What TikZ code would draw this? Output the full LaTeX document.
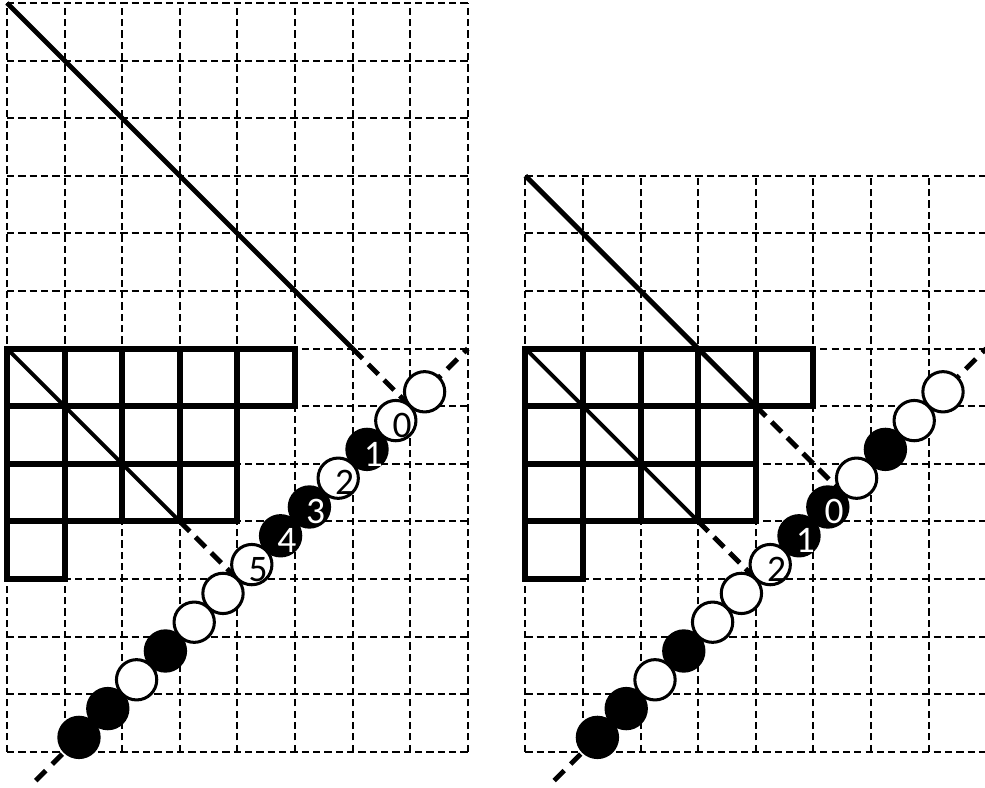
\documentclass[tikz,border=0pt]{standalone}
\usepackage{fontspec}
\setmainfont{Carlito}
\begin{document}
\begin{tikzpicture}[x=1cm,y=1cm,
  gridline/.style={line width=0.95pt, dash pattern=on 3.6pt off 2pt},
  youngbox/.style={line width=3pt, line join=miter},
  diagsolid/.style={line width=2.4pt},
  innersolid/.style={line width=1.9pt},
  diagdash/.style={line width=2.4pt, dash pattern=on 7pt off 4pt},
  beadline/.style={line width=2.4pt, dash pattern=on 7pt off 4.5pt},
  bead/.style={circle, draw=black, line width=1.5pt, minimum size=0.70cm, inner sep=0pt},
  lab/.style={inner sep=0pt, font=\fontsize{18.5}{21}\selectfont}
]
\useasboundingbox (-0.1215,-0.628) rectangle (16.979,13.052);

% grids
\draw[gridline] (0,0) grid (8,13);
\draw[gridline] (9,0) grid (17,10);

% Young diagrams
\foreach \ox in {0,9} {
  \foreach \x in {0,...,4} \draw[youngbox] (\ox+\x,6) rectangle ++(1,1);
  \foreach \x in {0,...,3} \draw[youngbox] (\ox+\x,5) rectangle ++(1,1);
  \foreach \x in {0,...,3} \draw[youngbox] (\ox+\x,4) rectangle ++(1,1);
  \draw[youngbox] (\ox,3) rectangle ++(1,1);
}

% named points
\coordinate (LA) at (0,13);  \coordinate (LB) at (6,7);  \coordinate (LC) at (7,6);
\coordinate (LD) at (0,7);   \coordinate (LE) at (3,4);  \coordinate (LF) at (4,3);
\coordinate (LG) at (0.5,-0.5); \coordinate (LH) at (8,7);
\coordinate (RA) at (9,10);  \coordinate (RB) at (13,6); \coordinate (RC) at (14.5,4.5);
\coordinate (RD) at (9,7);   \coordinate (RE) at (12,4); \coordinate (RF) at (13,3);
\coordinate (RG) at (9.5,-0.5); \coordinate (RH) at (17,7);

% diagonals
\draw[diagsolid] (LA) -- (LB);
\draw[diagdash] (LB) -- (LC);
\draw[innersolid] (LD) -- (LE);
\draw[diagdash] (LE) -- (LF);
\draw[diagsolid] (RA) -- (RB);
\draw[diagdash] (RB) -- (RC);
\draw[innersolid] (RD) -- (RE);
\draw[diagdash] (RE) -- (RF);

% bead lines
\draw[beadline] (LG) -- (LH);
\draw[beadline] (RG) -- (RH);

% beads left
\foreach \k/\c in {0/black,1/black,2/white,3/black,4/white,5/white,6/white,7/black,8/black,9/white,10/black,11/white,12/white}
  \node[bead, fill=\c] (L\k) at ({1.25+0.5*\k},{0.25+0.5*\k}) {};
% beads right
\foreach \k/\c in {0/black,1/black,2/white,3/black,4/white,5/white,6/white,7/black,8/black,9/white,10/black,11/white,12/white}
  \node[bead, fill=\c] (R\k) at ({10.25+0.5*\k},{0.25+0.5*\k}) {};

% labels left
\node[lab, text=black] (tl5) at ([shift={(0.11,-0.08)}]L6.center) {5};
\node[lab, text=white] (tl4) at ([shift={(0.11,-0.08)}]L7.center) {4};
\node[lab, text=white] (tl3) at ([shift={(0.11,-0.08)}]L8.center) {3};
\node[lab, text=black] (tl2) at ([shift={(0.11,-0.08)}]L9.center) {2};
\node[lab, text=white] (tl1) at ([shift={(0.11,-0.08)}]L10.center) {1};
\node[lab, text=black] (tl0) at ([shift={(0.11,-0.08)}]L11.center) {0};
% labels right
\node[lab, text=black] (tr2) at ([shift={(0.11,-0.08)}]R6.center) {2};
\node[lab, text=white] (tr1) at ([shift={(0.11,-0.08)}]R7.center) {1};
\node[lab, text=white] (tr0) at ([shift={(0.11,-0.08)}]R8.center) {0};
\end{tikzpicture}
\end{document}
